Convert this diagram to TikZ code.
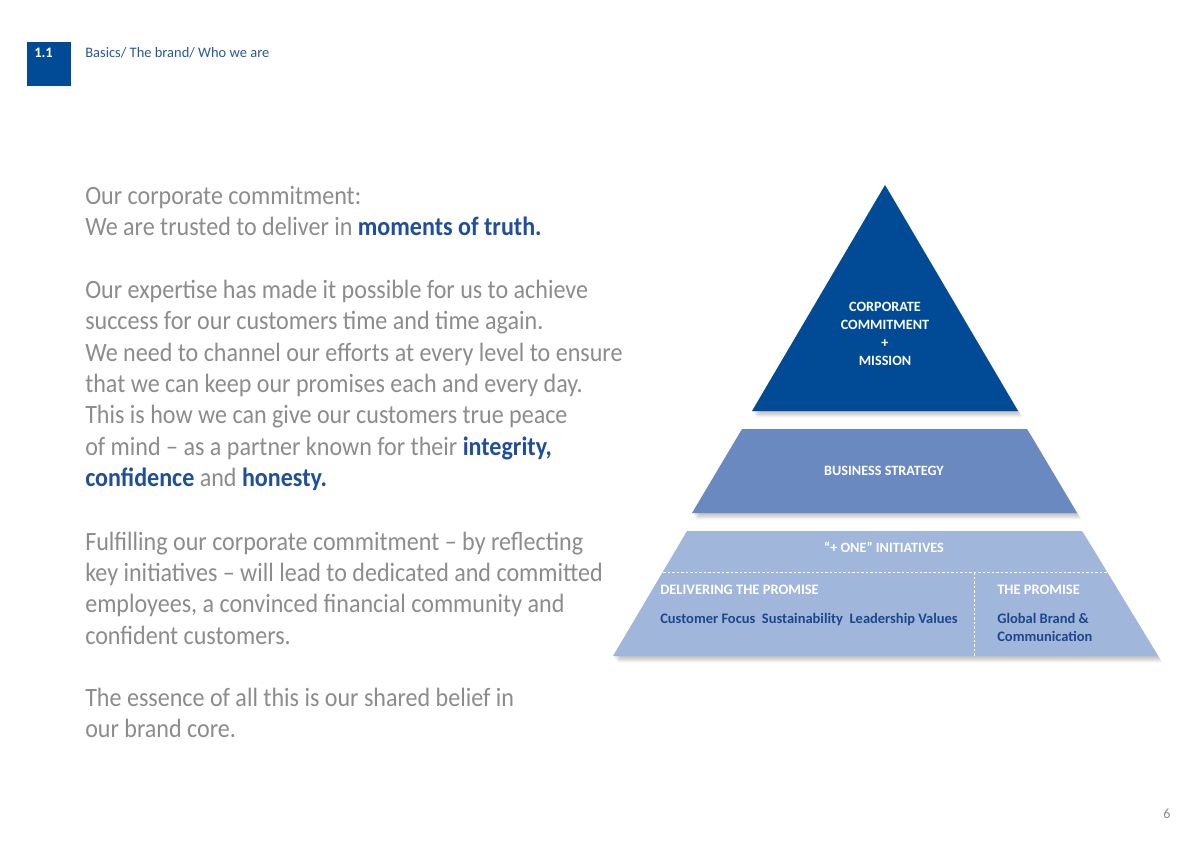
\documentclass[tikz,border=0pt]{standalone}
\usepackage{fontspec}
\setmainfont{Carlito}
\newfontfamily\bodyfont[FakeStretch=0.91]{Carlito}

\definecolor{brandblue}{HTML}{004A96}
\definecolor{midblue}{HTML}{6A89C0}
\definecolor{paleblue}{HTML}{A0B6DB}
\definecolor{deepblue}{HTML}{1E468C}
\definecolor{linkblue}{HTML}{2A55A0}
\definecolor{hlblue}{HTML}{1F4E9A}
\definecolor{bodygray}{HTML}{8C8C8C}

\newcommand{\hl}[1]{\textcolor{hlblue}{\bfseries #1}}

\tikzset{
  bodytext/.style={anchor=base west, inner sep=0pt, text=bodygray,
    font=\bodyfont\fontsize{18.8}{22.3}\selectfont},
  headtext/.style={anchor=base west, inner sep=0pt,
    font=\fontsize{10.3}{12}\selectfont},
  pyrlabel/.style={text=white, align=center, inner sep=0pt,
    font=\bfseries\fontsize{10.1}{12.8}\selectfont},
  pyritem/.style={anchor=base west, inner sep=0pt, align=left, text=deepblue,
    font=\bfseries\fontsize{10.3}{12.8}\selectfont},
  softshadow/.style={black, opacity=0.05},
  divider/.style={white, line width=0.7pt, dash pattern=on 2pt off 1.2pt}
}

\begin{document}
\begin{tikzpicture}[x=0.025cm, y=-0.025cm]
\useasboundingbox[fill=white] (0,0) rectangle (1200,849);

% header
\fill [brandblue] (27,42) rectangle (71,86);
\node [headtext, text=white] (chapno) at (34,57) {\bfseries 1.1};
\node [headtext, text=linkblue] (crumbs) at (85,57) {Basics/ The brand/ Who we are};

% body text
\foreach \yy/\txt [count=\i] in {
    204/{Our corporate commitment:},
    235/{We are trusted to deliver in \hl{moments of truth.}},
    298/{Our expertise has made it possible for us to achieve},
    329/{success for our customers time and time again.},
    361/{We need to channel our efforts at every level to ensure},
    392/{that we can keep our promises each and every day.},
    423/{This is how we can give our customers true peace},
    455/{of mind – as a partner known for their \hl{integrity,}},
    486/{\hl{confidence} and \hl{honesty.}},
    550/{Fulfilling our corporate commitment – by reflecting},
    581/{key initiatives – will lead to dedicated and committed},
    612/{employees, a convinced financial community and},
    644/{confident customers.},
    706/{The essence of all this is our shared belief in},
    737/{our brand core.}}
    \node [bodytext] (line\i) at (85,\yy) {\txt};

% pyramid shadows
\foreach \s in {1,...,5}{
  \begin{scope}[xshift=0.6*\s pt, yshift=-0.9*\s pt]
    \fill [softshadow] (885,185) -- (1018,411) -- (752,411) -- cycle;
    \fill [softshadow] (742,429) -- (1027,429) -- (1077,513) -- (692,513) -- cycle;
    \fill [softshadow] (687,531) -- (1082,531) -- (1158,656) -- (613,656) -- cycle;
  \end{scope}
}

% pyramid
\fill [brandblue] (885,185) -- (1018,411) -- (752,411) -- cycle;
\fill [midblue] (742,429) -- (1027,429) -- (1077,513) -- (692,513) -- cycle;
\fill [paleblue] (687,531) -- (1082,531) -- (1158,656) -- (613,656) -- cycle;

\coordinate (dashL) at (663,572);
\coordinate (dashR) at (1107,572);
\coordinate (splitT) at (974,572);
\coordinate (splitB) at (974,656);
\draw [divider] (dashL) -- (dashR);
\draw [divider] (splitT) -- (splitB);

\node [pyrlabel] (mission) at (885,334) {CORPORATE\\COMMITMENT\\+\\MISSION};
\node [pyrlabel] (strategy) at (884,471) {BUSINESS STRATEGY};
\node [pyrlabel] (initiatives) at (884,547) {“+ ONE” INITIATIVES};

\node [pyritem, text=white] (delivering) at (660,594) {DELIVERING THE PROMISE};
\node [pyritem] (values) at (660,623) {Customer Focus\ \ Sustainability\ \ Leadership Values};
\node [pyritem, text=white] (promise) at (997,594) {THE PROMISE};
\node [pyritem] (brandcomm) at (997,641) {Global Brand \&\\Communication};

% page number
\node [text=bodygray, font=\fontsize{10}{12}\selectfont] (pageno) at (1167,814) {6};

\end{tikzpicture}
\end{document}
